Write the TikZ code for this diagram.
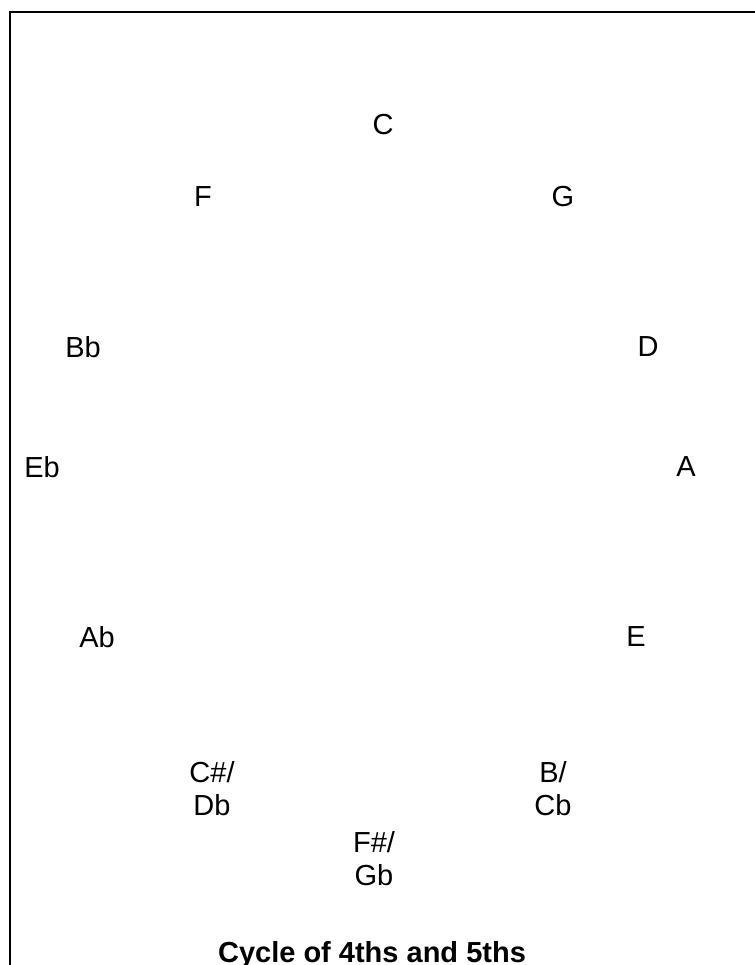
\documentclass[tikz,border=0pt]{standalone}
\usepackage{fontspec}
\setmainfont{Liberation Sans}
\usepackage{tikz}

\begin{document}
\begin{tikzpicture}[x=1pt, y=-1pt,
    every node/.style={font=\fontsize{29}{33}\selectfont, inner sep=0pt},
    note/.style={align=center}]
  \useasboundingbox (0,0) rectangle (754,965);
  % frame, open at the right and at the bottom
  \draw[line width=2.6pt] (10,965) -- (10,12) -- (760,12);
  % keys round the circle
  \node[note] (nC)  at (383,125) {C};
  \node[note] (nG)  at (563,197) {G};
  \node[note] (nD)  at (648,347) {D};
  \node[note] (nA)  at (686,467) {A};
  \node[note] (nE)  at (636,637) {E};
  \node[note] (nB)  at (553,789) {B/\\Cb};
  \node[note] (nFs) at (374,859) {F\#/\\Gb};
  \node[note] (nCs) at (212,789) {C\#/\\Db};
  \node[note] (nAb) at (97,637)  {Ab};
  \node[note] (nEb) at (42,467)  {Eb};
  \node[note] (nBb) at (83,347)  {Bb};
  \node[note] (nF)  at (203,197) {F};
  % caption, cut by the lower edge
  \node[anchor=base, font=\fontsize{29}{33}\selectfont\bfseries] (title) at (372,962) {Cycle of 4ths and 5ths};
\end{tikzpicture}
\end{document}
